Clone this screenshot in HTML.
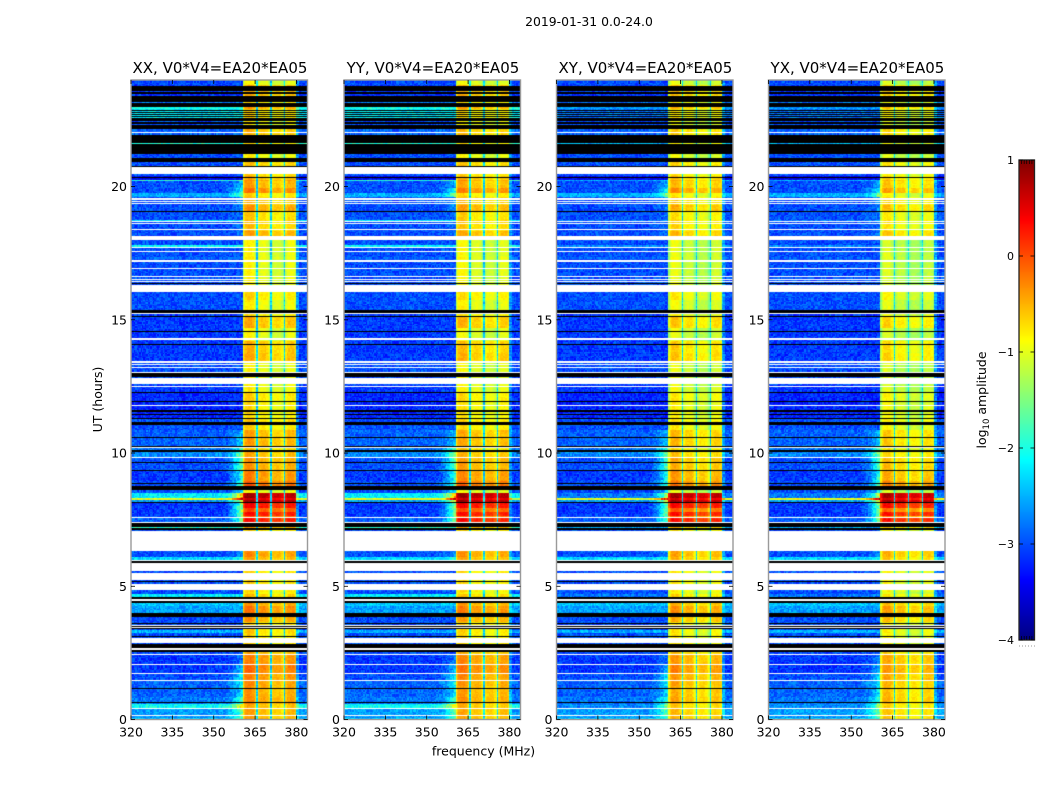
<!DOCTYPE html>
<html lang="en">
<head>
<meta charset="utf-8">
<title>2019-01-31 0.0-24.0</title>
<style>
html,body{margin:0;padding:0;background:#fff;}
#figure{position:relative;width:1050px;height:800px;overflow:hidden;background:#fff;}
#figure canvas{position:absolute;display:block;}
#overlay{position:absolute;left:0;top:0;}
text{font-family:"DejaVu Sans","Liberation Sans",sans-serif;fill:#000;}
</style>
</head>
<body>
<div id="figure">
<svg id="overlay" width="1050" height="800" viewBox="0 0 1050 800">
  <text x="589" y="26" font-size="12.4" text-anchor="middle">2019-01-31 0.0-24.0</text>
  <text x="483.5" y="755.5" font-size="12.5" text-anchor="middle">frequency (MHz)</text>
  <text transform="translate(102,399.5) rotate(-90)" font-size="12.5" text-anchor="middle">UT (hours)</text>
  <text transform="translate(986,400) rotate(-90)" font-size="12.5" text-anchor="middle">log<tspan font-size="8.5" dy="3">10</tspan><tspan dy="-3"> amplitude</tspan></text>
</svg>
</div>
<script>
// ---- chart data ----
var panelTitles = ['XX, V0*V4=EA20*EA05', 'YY, V0*V4=EA20*EA05', 'XY, V0*V4=EA20*EA05', 'YX, V0*V4=EA20*EA05'];
var freqTicks = [320, 335, 350, 365, 380];
var hourTicks = [0, 5, 10, 15, 20];
var colorTicks = [1, 0, -1, -2, -3, -4];
var colorTickLabels = ['1', '0', '\u22121', '\u22122', '\u22123', '\u22124'];

// time bands, listed from 24 h downward; each runs until the next start hour
var bandStartHour = [24.00,23.81,23.78,23.18,23.14,22.99,22.88,22.54,22.16,21.94,21.65,21.60,20.93,20.48,20.38,20.27,20.21,19.95,19.73,19.61,19.31,19.05,18.75,18.71,18.36,17.98,17.79,17.75,17.36,17.32,17.29,16.05,15.75,15.24,15.09,14.70,14.21,13.76,13.39,12.53,12.30,11.96,11.32,11.05,10.87,10.22,10.03,9.80,9.34,8.93,8.78,8.63,8.51,8.48,8.29,8.25,8.14,7.95,7.80,7.65,7.57,7.39,7.24,7.13,6.34,6.11,6.00,4.82,4.69,4.54,4.43,4.24,3.98,3.86,3.64,3.34,3.26,2.59,2.44,2.06,1.73,1.46,1.24,0.87,0.60,0.41,0.07];
// log10 amplitude outside the in-band block
var bandOffLevel = [-3.0,-1.9,-3.1,-2.8,-3.0,-2.0,-2.2,-3.0,-2.9,-3.0,-1.9,-3.0,-3.0,-3.0,-3.4,-1.9,-3.0,-3.0,-2.5,-3.0,-3.0,-3.0,-2.2,-3.0,-3.0,-3.0,-2.1,-3.0,-2.9,-2.2,-3.0,-3.0,-3.0,-3.1,-3.1,-3.1,-3.1,-3.1,-3.0,-3.1,-3.2,-3.2,-3.0,-3.0,-2.9,-2.8,-2.7,-3.0,-3.1,-3.0,-3.0,-3.0,-1.5,-2.2,-1.0,-2.6,-3.1,-3.1,-3.1,-3.0,-2.9,-2.8,-1.9,-3.0,-3.0,-2.3,-3.0,-3.0,-2.2,-3.0,-2.4,-2.6,-3.2,-3.0,-3.0,-2.5,-3.0,-3.0,-3.1,-3.1,-3.0,-2.9,-2.9,-2.8,-2.1,-2.6,-2.4];
// log10 amplitude inside the in-band block
var bandInLevel = [-0.9,-0.65,-0.5,-0.75,-0.65,-0.4,-0.7,-0.85,-0.55,-0.65,
  -0.75,-0.85,-0.6,-0.65,-0.5,-0.35,-0.45,-0.25,-0.7,-0.55,
  -0.4,-0.65,-0.55,-0.6,-0.45,-0.9,-0.9,-0.9,-0.85,-0.85,
  -0.9,-0.7,-0.85,-0.75,-0.5,-0.9,-0.55,-0.5,-0.9,-0.85,
  -0.7,-0.75,-0.65,-0.7,-0.45,-0.65,-0.5,-0.4,-0.3,-0.15,
  -0.05,-0.9,0.1,0.75,0.5,0.75,0.3,0,0.25,-0.1,
  0.25,-0.35,-0.45,-0.7,-0.35,-0.45,-0.7,-0.8,-0.6,-0.7,
  -0.4,-0.25,-0.5,-0.4,-0.7,-0.65,-0.7,-0.5,-0.3,-0.2,
  -0.3,-0.35,-0.4,-0.35,-0.5,-0.45,-0.4];
// strength of the leakage skirt below the in-band block
var bandSkirt = [0,0,0,0,0,0,0,0,0,0,0,0,0,0,0,0.1,0.3,0.6,0.6,0.2,0.2,0.1,0.1,0.1,0.1,0,0,0,0,0,0,0,0,0,0,0,0,0,0,0,0,0,0,0,0.3,0.6,0.8,0.8,0.7,0.7,0.8,0.5,1,1,1,1,1,1,1,0.8,0.8,0.4,0,0,0.2,0.2,0,0,0,0,0,0,0,0,0,0,0,0,0.2,0.4,0.5,0.5,0.4,0.6,0.8,0.6,0.4];

// flagged time ranges [start hour, end hour]
var blackFlagHours = [[23.78,23.59],[23.55,23.48],[23.40,23.18],[23.14,22.99],[22.88,22.84],[22.80,22.76],[22.73,22.69],[22.65,22.61],[22.58,22.48],[22.41,22.35],[22.31,22.16],[21.94,21.65],[21.60,21.23],[21.08,20.93],[20.78,20.72],[20.36,20.33],[19.09,19.05],[16.39,16.35],[15.38,15.26],[15.15,15.11],[14.59,14.55],[14.10,14.06],[12.99,12.84],[12.30,12.26],[11.96,11.93],[11.60,11.55],[11.48,11.44],[11.30,11.26],[11.18,11.06],[10.62,10.58],[10.28,10.24],[10.13,10.05],[9.66,9.62],[9.38,9.34],[8.89,8.86],[8.76,8.63],[8.18,8.14],[7.39,7.24],[7.20,7.13],[5.93,5.89],[5.20,5.16],[4.61,4.54],[4.43,4.39],[3.98,3.86],[3.62,3.58],[3.51,3.47],[3.43,3.39],[3.13,3.09],[2.83,2.68],[2.59,2.55],[1.18,1.14],[0.66,0.62]];
var whiteFlagHours = [[22.05,22.01],[20.72,20.48],[19.56,19.50],[19.46,19.43],[19.39,19.35],[18.72,18.68],[18.62,18.58],[18.41,18.38],[18.15,18.00],[17.74,17.70],[17.59,17.55],[17.26,17.23],[17.21,17.17],[16.93,16.90],[16.63,16.60],[16.55,16.52],[16.44,16.41],[16.31,16.05],[15.26,15.22],[14.33,14.25],[13.46,13.39],[13.35,13.31],[13.24,13.20],[13.05,13.01],[12.83,12.60],[12.53,12.49],[11.81,11.78],[10.24,10.20],[9.86,9.82],[7.59,7.56],[7.43,7.39],[7.07,6.34],[6.00,5.93],[5.89,5.59],[5.51,5.25],[5.10,4.85],[4.54,4.46],[3.64,3.62],[3.55,3.51],[3.47,3.43],[3.05,2.87],[2.68,2.59],[2.44,2.41],[2.08,2.04],[1.76,1.73],[1.50,1.46],[0.43,0.39],[0.17,0.13]];

// per-correlation and per-subband level offsets, log10 units
var panelInOffset = [-0.08, -0.13, -0.22, -0.3];
var panelLineDrop = [0, 0, 0.6, 0.6];
var subbandOffset = [0.12, -0.05, -0.15, -0.02];
// shape across the ten channels of one 5 MHz subband
var subbandShape = [-0.4, -0.12, 0, 0.05, 0.05, 0.05, 0.05, 0, -0.1, -0.3];
// small fixed noise table that gives the cells their speckled look
var speckle = [0.42,-0.71,0.13,0.88,-0.25,-0.54,0.31,-0.09,0.67,-0.93,0.21,0.05,-0.38,0.76,-0.62,0.49,-0.17,0.95,-0.81,0.28,-0.46,0.11,0.59,-0.33,-0.02,0.84,-0.69,0.36,-0.13,-0.57,0.72,0.18,-0.89,0.53,-0.29,0.07,0.63,-0.44,-0.77,0.24,0.91,-0.11,0.39,-0.66,0.16,-0.21,0.81,-0.51,0.02,0.45,-0.36,-0.85,0.57];

// ---- layout ----
var panelLeft = [131, 344, 556.5, 768.5];
var panelWidth = 176.5;
var plotTop = 80;
var plotBottom = 719.5;
var freqMin = 320, freqMax = 384;
var hourMin = 0, hourMax = 24;
var channelWidth = 0.5;
var rowHours = 0.05;
var inBandStart = 360.5, inBandEnd = 380, subbandWidth = 5;
var colorMin = -4, colorMax = 1;
var barLeft = 1019, barWidth = 15.5, barTop = 160, barBottom = 640;
var SVGNS = 'http://www.w3.org/2000/svg';

// ---- scales ----
function xScale(freq, panel) {
  return panelLeft[panel] + (freq - freqMin) / (freqMax - freqMin) * panelWidth;
}
function yScale(hour) {
  return plotBottom - (hour - hourMin) / (hourMax - hourMin) * (plotBottom - plotTop);
}
function colorScaleY(v) {
  return barBottom - (v - colorMin) / (colorMax - colorMin) * (barBottom - barTop);
}
function clamp01(v) { return v < 0 ? 0 : v > 1 ? 1 : v; }
function jet(v) {
  var t = clamp01((v - colorMin) / (colorMax - colorMin));
  var r = clamp01(1.5 - Math.abs(4 * t - 3));
  var g = clamp01(1.5 - Math.abs(4 * t - 2));
  var b = clamp01(1.5 - Math.abs(4 * t - 1));
  return 'rgb(' + Math.round(r * 255) + ',' + Math.round(g * 255) + ',' + Math.round(b * 255) + ')';
}
// bands run downward in time: a band covers its start hour down to the next band's start hour
function bandIndex(hour) {
  for (var i = 0; i < bandStartHour.length - 1; i++) {
    if (hour > bandStartHour[i + 1]) return i;
  }
  return bandStartHour.length - 1;
}
function noiseAt(r, c, p) {
  var k = (r * r * 3 + c * c * 5 + r * c * 7 + r * 11 + p * 13) % speckle.length;
  return speckle[k];
}
function cellValue(band, freq, r, c, p) {
  var off = bandOffLevel[band];
  if (off > -2.3 && off < -1.2) off -= panelLineDrop[p];
  var inn = bandInLevel[band] + panelInOffset[p] * (bandInLevel[band] > 0.2 ? 0.3 : 1);
  var n = noiseAt(r, c, p);
  if (freq >= inBandStart && freq < inBandEnd) {
    var pos = freq - inBandStart;
    var sub = Math.floor(pos / subbandWidth);
    var ch = Math.floor((pos - sub * subbandWidth) / channelWidth);
    if (ch === 0 && sub > 0) return -2.3 + n * 0.3;
    return inn + subbandOffset[sub] + subbandShape[ch] + n * 0.1;
  }
  var v = off + n * 0.28;
  if (freq >= 352.5 && freq < inBandStart) {
    var f = (freq - 352.5) / 8;
    v += bandSkirt[band] * 1.9 * f * f * (1 + n * 0.1);
  }
  if (freq >= inBandEnd && freq < inBandEnd + 1) v += 0.4;
  return v;
}

// ---- draw ----
var figure = document.getElementById('figure');
var overlay = document.getElementById('overlay');

function drawHeatmap(p) {
  var left = Math.round(panelLeft[p]);
  var right = Math.round(panelLeft[p] + panelWidth);
  var top = Math.round(plotTop);
  var bottom = Math.round(plotBottom);
  var canvas = document.createElement('canvas');
  
  
  canvas.width = right - left;
  canvas.height = bottom - top;
  canvas.style.left = left + 'px';
  canvas.style.top = top + 'px';
  figure.insertBefore(canvas, overlay);
  var ctx = canvas.getContext('2d');
  var rows = Math.round((hourMax - hourMin) / rowHours);
  var cols = Math.round((freqMax - freqMin) / channelWidth);
  for (var r = 0; r < rows; r++) {
    var hourHigh = hourMax - r * rowHours;
    var hourLow = hourHigh - rowHours;
    var band = bandIndex(hourHigh - rowHours / 2);
    var y0 = Math.round(yScale(hourHigh)) - top;
    var y1 = Math.round(yScale(hourLow)) - top;
    for (var c = 0; c < cols; c++) {
      var freq = freqMin + c * channelWidth;
      var x0 = Math.round(xScale(freq, p)) - left;
      var x1 = Math.round(xScale(freq + channelWidth, p)) - left;
      ctx.fillStyle = jet(cellValue(band, freq, r, c, p));
      ctx.fillRect(x0, y0, x1 - x0, y1 - y0);
    }
  }
  paintFlags(ctx, whiteFlagHours, '#ffffff', top, canvas.width);
  paintFlags(ctx, blackFlagHours, '#000000', top, canvas.width);
}
function paintFlags(ctx, ranges, color, top, width) {
  ctx.fillStyle = color;
  for (var i = 0; i < ranges.length; i++) {
    var y0 = Math.round(yScale(ranges[i][0])) - top;
    var y1 = Math.round(yScale(ranges[i][1])) - top;
    ctx.fillRect(0, y0, width, Math.max(1, y1 - y0));
  }
}
function addLine(parent, x1, y1, x2, y2, color, w) {
  var el = document.createElementNS(SVGNS, 'line');
  el.setAttribute('x1', x1);
  el.setAttribute('y1', y1);
  el.setAttribute('x2', x2);
  el.setAttribute('y2', y2);
  el.setAttribute('stroke', color);
  el.setAttribute('stroke-width', w);
  parent.appendChild(el);
  return el;
}
function addText(parent, x, y, str, size, anchor) {
  var el = document.createElementNS(SVGNS, 'text');
  el.setAttribute('x', x);
  el.setAttribute('y', y);
  el.setAttribute('font-size', size);
  el.setAttribute('text-anchor', anchor);
  el.textContent = str;
  parent.appendChild(el);
  return el;
}
function drawAxes(p) {
  var g = document.createElementNS(SVGNS, 'g');
  
  
  overlay.appendChild(g);
  var L = panelLeft[p], R = L + panelWidth;

  var frame = document.createElementNS(SVGNS, 'rect');
  frame.setAttribute('x', L);
  frame.setAttribute('y', plotTop);
  frame.setAttribute('width', panelWidth);
  frame.setAttribute('height', plotBottom - plotTop);
  frame.setAttribute('fill', 'none');
  frame.setAttribute('stroke', '#9a9a9a');
  frame.setAttribute('stroke-width', '1.4');
  
  
  g.appendChild(frame);

  var title = addText(g, (L + R) / 2 + 0.7, 73, panelTitles[p], 15, 'middle');
  
  

  freqTicks.forEach(function (f) {
    var x = xScale(f, p);
    var bt = addLine(g, x, plotBottom, x, plotBottom - 4, '#000', 0.8);
    
    
    var tt = addLine(g, x, plotTop, x, plotTop + 4, '#000', 0.8);
    
    
    var lab = addText(g, x, 736.5, String(f), 12.5, 'middle');
    
    
  });
  hourTicks.forEach(function (h) {
    var y = yScale(h);
    var lt = addLine(g, L, y, L + 4, y, '#000', 0.8);
    
    
    var rt = addLine(g, R, y, R - 4, y, '#000', 0.8);
    
    
    var lab = addText(g, L - 4, y + 4.5, String(h), 12.5, 'end');
    
    
  });
}
function drawColorbar() {
  var canvas = document.createElement('canvas');
  
  
  canvas.width = Math.round(barWidth);
  canvas.height = barBottom - barTop;
  canvas.style.left = barLeft + 'px';
  canvas.style.top = barTop + 'px';
  figure.insertBefore(canvas, overlay);
  var ctx = canvas.getContext('2d');
  for (var y = 0; y < canvas.height; y++) {
    var v = colorMax - (y + 0.5) / canvas.height * (colorMax - colorMin);
    ctx.fillStyle = jet(v);
    ctx.fillRect(0, y, canvas.width, 1);
  }
  var g = document.createElementNS(SVGNS, 'g');
  
  
  overlay.appendChild(g);

  var frame = document.createElementNS(SVGNS, 'rect');
  frame.setAttribute('x', barLeft);
  frame.setAttribute('y', barTop);
  frame.setAttribute('width', barWidth);
  frame.setAttribute('height', barBottom - barTop);
  frame.setAttribute('fill', 'none');
  frame.setAttribute('stroke', '#222');
  frame.setAttribute('stroke-width', '1.3');
  
  
  g.appendChild(frame);

  colorTicks.forEach(function (v, i) {
    var y = colorScaleY(v);
    var a = addLine(g, barLeft, y, barLeft + 4, y, '#000', 0.8);
    
    
    var b = addLine(g, barLeft + barWidth, y, barLeft + barWidth - 4, y, '#000', 0.8);
    
    
    var lab = addText(g, barLeft - 5, y + 4, colorTickLabels[i], 11, 'end');
    
    
  });
  for (var i = 1; i <= 5; i++) {
    var x = barLeft + i * barWidth / 6;
    var t1 = addLine(g, x, barTop, x, barTop + 4, '#000', 0.7);
    
    
    var t2 = addLine(g, x, barBottom, x, barBottom - 4, '#000', 0.7);
    
    
  }
  for (var d = 0; d < 6; d++) {
    var dot = addLine(g, barLeft + d * 3, 646, barLeft + d * 3 + 1, 646, '#999', 1);
    
    
  }
}

for (var p = 0; p < panelTitles.length; p++) {
  drawHeatmap(p);
  drawAxes(p);
}
drawColorbar();
</script>
</body>
</html>
